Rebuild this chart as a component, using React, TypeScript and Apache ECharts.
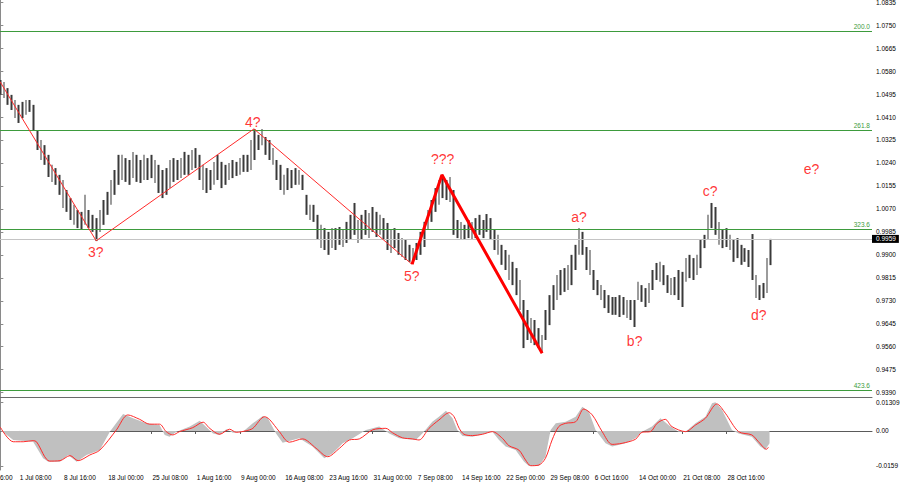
import React, { useEffect, useRef } from "react";
import * as echarts from "echarts";

const FONT = "Liberation Sans, Arial, sans-serif";
const N_SLOTS = 237;
const FIRST_TICK_BAR = 5;
const BARS_PER_TICK = 12;

const xTickLabels = [
  "1 Jul 08:00", "8 Jul 16:00", "18 Jul 00:00", "25 Jul 08:00", "1 Aug 16:00",
  "9 Aug 00:00", "16 Aug 08:00", "23 Aug 16:00", "31 Aug 00:00", "7 Sep 08:00",
  "14 Sep 16:00", "22 Sep 00:00", "29 Sep 08:00", "6 Oct 16:00", "14 Oct 00:00",
  "21 Oct 08:00", "28 Oct 16:00",
];
const offscreenTickLabel = "30 Jun 16:00";

const priceTicks = [
  0.939, 0.9475, 0.956, 0.9645, 0.973, 0.9815, 0.99, 0.9985, 1.007, 1.0155,
  1.024, 1.0325, 1.041, 1.0495, 1.058, 1.0665, 1.075, 1.0835,
];
const oscTicks = [-0.0159, 0, 0.01309];
const oscTickLabels = ["-0.0159", "0.00", "0.01309"];

const barHighs = [
  1.0547, 1.054, 1.0517, 1.0492, 1.0473, 1.0455, 1.0466, 1.0473, 1.0473, 1.0455,
  1.0362, 1.0325, 1.0306, 1.027, 1.0233, 1.0221, 1.0196, 1.0177, 1.014, 1.011,
  1.0085, 1.0066, 1.0059, 1.0122, 1.0066, 1.0048, 1.0036, 1.0066, 1.0103, 1.0133,
  1.0177, 1.0214, 1.027, 1.027, 1.0258, 1.0251, 1.0281, 1.027, 1.0251, 1.027,
  1.0258, 1.027, 1.0251, 1.0233, 1.0214, 1.0221, 1.0251, 1.0258, 1.0251, 1.0258,
  1.0281, 1.027, 1.0288, 1.0295, 1.027, 1.0233, 1.0221, 1.0214, 1.0244, 1.027,
  1.0244, 1.0233, 1.024, 1.0251, 1.0244, 1.0258, 1.027, 1.027, 1.0325, 1.0366,
  1.0344, 1.0366, 1.0336, 1.0325, 1.0295, 1.0251, 1.0233, 1.0196, 1.0221, 1.0214,
  1.0221, 1.0214, 1.0196, 1.0122, 1.0085, 1.0085, 1.0048, 1.0011, 0.9999, 0.9985,
  0.9999, 0.9999, 1.0003, 0.9992, 1.0022, 1.0048, 1.0092, 1.0029, 1.0048, 1.0066,
  1.0055, 1.0077, 1.0059, 1.0048, 1.0036, 1.0018, 0.9992, 0.9999, 0.9981, 0.9962,
  0.9955, 0.9937, 0.9925, 0.9944, 0.9985, 1.0022, 1.0066, 1.0103, 1.0147, 1.0177,
  1.0196, 1.0177, 1.0188, 1.014, 1.0029, 1.0022, 1.0011, 1.0029, 1.0022, 1.0036,
  1.0048, 1.0029, 1.0051, 1.0036, 0.9992, 0.9974, 0.9937, 0.9918, 0.99, 0.9874,
  0.9851, 0.9807, 0.9733, 0.9696, 0.9666, 0.9659, 0.9629, 0.9603, 0.9696, 0.9751,
  0.9788, 0.9825, 0.9844, 0.9851, 0.9862, 0.99, 0.9937, 0.9999, 0.9985, 0.9929,
  0.9918, 0.9844, 0.9807, 0.9788, 0.977, 0.9751, 0.9744, 0.9744, 0.9751, 0.9744,
  0.9733, 0.9733, 0.9733, 0.98, 0.9788, 0.9777, 0.9796, 0.9844, 0.987, 0.9874,
  0.9862, 0.9825, 0.9814, 0.9818, 0.9844, 0.9837, 0.9888, 0.99, 0.9888, 0.99,
  0.9955, 0.9974, 1.0048, 1.0092, 1.0077, 1.0022, 0.9992, 0.9999, 0.9974, 0.9955,
  0.9962, 0.9937, 0.9925, 0.9918, 0.9977, 0.9825, 0.9788, 0.9796, 0.9888, 0.9959,
];
const barLows = [
  1.0492, 1.048, 1.0455, 1.0436, 1.0406, 1.0388, 1.0406, 1.0418, 1.0429, 1.0362,
  1.0288, 1.0251, 1.0233, 1.0188, 1.017, 1.0159, 1.0122, 1.0073, 1.0059, 1.0029,
  1.0011, 0.9999, 0.9992, 1.0011, 0.9999, 0.9985, 0.9951, 0.9985, 1.0011, 1.0048,
  1.0085, 1.0122, 1.0159, 1.0177, 1.017, 1.0159, 1.0184, 1.017, 1.0166, 1.0177,
  1.0177, 1.0184, 1.0166, 1.0129, 1.011, 1.0122, 1.0147, 1.017, 1.0177, 1.0184,
  1.0196, 1.0196, 1.0214, 1.0221, 1.0177, 1.014, 1.0129, 1.014, 1.0159, 1.0177,
  1.0147, 1.0159, 1.0177, 1.0184, 1.0192, 1.0196, 1.0207, 1.0207, 1.0214, 1.0251,
  1.0288, 1.0306, 1.027, 1.0251, 1.0233, 1.0177, 1.014, 1.0122, 1.014, 1.0147,
  1.0159, 1.0159, 1.014, 1.0048, 1.0029, 1.0022, 0.9955, 0.9925, 0.9918, 0.99,
  0.9925, 0.9918, 0.9937, 0.9929, 0.9944, 0.9955, 0.9974, 0.9944, 0.9955, 0.9974,
  0.9962, 0.9985, 0.9966, 0.9974, 0.9955, 0.9918, 0.9907, 0.9925, 0.99, 0.9892,
  0.9881, 0.9874, 0.9866, 0.9881, 0.99, 0.9929, 0.9992, 1.0022, 1.0059, 1.0085,
  1.011, 1.0103, 1.0096, 0.9974, 0.9962, 0.9955, 0.9955, 0.9962, 0.9955, 0.9962,
  0.9974, 0.9962, 0.9985, 0.9955, 0.9918, 0.99, 0.9863, 0.9844, 0.9807, 0.9788,
  0.9751, 0.9696, 0.9555, 0.9585, 0.9574, 0.9566, 0.9555, 0.9537, 0.9585, 0.964,
  0.9696, 0.9733, 0.9751, 0.9763, 0.977, 0.9788, 0.9844, 0.99, 0.99, 0.9844,
  0.9825, 0.977, 0.9751, 0.9733, 0.9703, 0.9685, 0.9678, 0.9678, 0.967, 0.9678,
  0.9666, 0.9659, 0.9633, 0.9733, 0.9726, 0.9707, 0.9722, 0.977, 0.9807, 0.98,
  0.9788, 0.9759, 0.9751, 0.9751, 0.9733, 0.9707, 0.98, 0.9814, 0.9807, 0.9825,
  0.9851, 0.9925, 0.9955, 0.9999, 0.9974, 0.9937, 0.9925, 0.9929, 0.9918, 0.9874,
  0.9888, 0.9863, 0.9874, 0.9855, 0.9807, 0.974, 0.9733, 0.974, 0.9759, 0.9862,
];

const currentPrice = 0.9959;
const fiboLevels = [
  { label: "200.0", price: 1.0728 },
  { label: "261.8", price: 1.0362 },
  { label: "323.6", price: 0.9996 },
  { label: "423.6", price: 0.94 },
];

// [bar index, price]
const thinWavePath = [
  [-0.09, 1.0541], [26.0, 0.9952], [68.8, 1.0366], [111.7, 0.9865],
];
const thickWavePath = [
  [111.7, 0.9865], [119.8, 1.0196], [147.0, 0.9536],
];
const waveLabels = [
  { text: "3?", idx: 25.9, price: 0.9909 },
  { text: "4?", idx: 68.5, price: 1.0392 },
  { text: "5?", idx: 111.6, price: 0.982 },
  { text: "???", idx: 120.0, price: 1.0253 },
  { text: "a?", idx: 157.0, price: 1.004 },
  { text: "b?", idx: 172.1, price: 0.9581 },
  { text: "c?", idx: 192.6, price: 1.0136 },
  { text: "d?", idx: 205.8, price: 0.9677 },
  { text: "e?", idx: 220.1, price: 1.0218 },
];

// oscillator: [bar index, value]
const oscHistogram = [
  [0, 0.0005], [3.5, -0.0041], [8.9, -0.0049], [11.6, -0.0124], [13.0, -0.014],
  [16.2, -0.014], [18.4, -0.0109], [20.7, -0.014], [23.4, -0.0109], [27.0, -0.0086],
  [29.7, -0.0003], [33.3, 0.0077], [36.0, 0.0058], [39.6, 0.0035], [43.2, 0.0027],
  [44.6, -0.0018], [45.9, -0.0026], [47.8, -0.0003], [51.4, 0.002], [54.1, 0.0047],
  [57.7, -0.0011], [59.5, -0.0018], [61.3, 0.0008], [63.1, -0.0008], [65.8, -0.0003],
  [68.5, 0.0035], [71.2, 0.0068], [72.6, 0.0058], [74.8, -0.0011], [76.6, -0.0053],
  [81.1, -0.0033], [84.7, -0.0071], [87.9, -0.0124], [90.2, -0.0101], [92.9, -0.0056],
  [95.6, -0.0033], [99.2, 0.0005], [102.8, 0.002], [105.5, -0.0011], [108.2, -0.0033],
  [112.7, -0.0041], [114.5, -0.0011], [117.2, 0.0042], [119.0, 0.0065], [120.9, 0.0092],
  [122.7, 0.0058], [124.0, 0.0005], [125.4, -0.0023], [128.1, -0.0026], [131.7, -0.0011],
  [133.5, -0.0003], [135.3, -0.0041], [137.1, -0.0071], [139.8, -0.0086], [142.1, -0.014],
  [143.4, -0.0159], [146.1, -0.0159], [147.9, -0.0117], [149.3, 0.0005], [150.7, 0.0035],
  [153.4, 0.0042], [156.1, 0.0065], [157.9, 0.011], [159.7, 0.0088], [161.5, 0.0005],
  [164.2, -0.0056], [166.0, -0.0071], [169.6, -0.0056], [172.3, -0.0033], [174.1, -0.0003],
  [176.8, 0.002], [179.1, 0.0058], [181.3, 0.0027], [184.0, -0.0003], [185.9, -0.0003],
  [188.6, 0.0035], [191.3, 0.0065], [193.1, 0.0126], [194.0, 0.01309], [195.8, 0.0096],
  [198.5, 0.0005], [200.3, -0.0011], [203.9, -0.0026], [206.2, -0.0071], [207.5, -0.0086],
  [208.7, -0.0056],
];
const oscSignal = [
  [0, 0.0017], [3.5, -0.0049], [6.2, -0.0049], [8.9, -0.0044], [9.8, -0.0049],
  [13.4, -0.0137], [16.2, -0.0135], [18.9, -0.0112], [21.1, -0.0135], [24.3, -0.0109],
  [27.0, -0.0087], [31.5, 0.0005], [34.6, 0.0073], [37.8, 0.0053], [40.5, 0.0031],
  [43.2, 0.0031], [45.0, -0.0003], [46.8, -0.0018], [48.6, -0.0003], [52.2, 0.0015],
  [55.0, 0.004], [56.8, 0.0012], [59.5, -0.0015], [62.2, 0.0008], [64.0, -0.0006],
  [66.7, 0.0001], [68.5, 0.0012], [71.7, 0.0065], [73.0, 0.0053], [75.7, -0.0003],
  [78.4, -0.0051], [82.0, -0.0036], [85.7, -0.0079], [88.8, -0.0117], [92.0, -0.0079],
  [94.7, -0.0041], [97.4, -0.0036], [101.0, 0.0005], [104.6, 0.0012], [106.4, -0.0008],
  [109.1, -0.0031], [111.8, -0.0036], [113.6, -0.0041], [116.3, 0.0012], [119.0, 0.005],
  [121.8, 0.0083], [123.1, 0.0065], [124.5, 0.0012], [125.8, -0.0015], [128.1, -0.0021],
  [130.8, -0.0015], [133.5, -0.0003], [136.2, -0.0033], [138.0, -0.0067], [140.7, -0.0087],
  [142.5, -0.0132], [143.9, -0.0158], [146.1, -0.0155], [147.9, -0.0124], [149.7, -0.0041],
  [151.5, 0.002], [153.4, 0.0035], [156.1, 0.0042], [158.3, 0.01], [160.6, 0.0073],
  [163.3, -0.0003], [166.0, -0.0061], [168.7, -0.0056], [172.3, -0.0038], [174.1, -0.0006],
  [176.4, -0.0003], [178.2, 0.0035], [180.4, 0.0053], [182.2, 0.002], [185.9, -0.0003],
  [188.6, 0.0027], [191.3, 0.0058], [194.4, 0.0123], [196.7, 0.0081], [200.3, -0.0003],
  [203.9, -0.0018], [205.7, -0.0049], [207.9, -0.0083], [208.4, -0.0074],
];

const isTickBar = (i: number) =>
  i >= FIRST_TICK_BAR &&
  (i - FIRST_TICK_BAR) % BARS_PER_TICK === 0 &&
  (i - FIRST_TICK_BAR) / BARS_PER_TICK < xTickLabels.length;

function buildOption() {
  const cats = Array.from({ length: N_SLOTS }, (_, i) => String(i));
  const candles = barLows.map((lo, i) => [lo, barHighs[i], lo, barHighs[i]]);
  const GRID_LEFT = -1.5;
  const GRID_WIDTH = 873.5;
  return {
    animation: false,
    backgroundColor: "#ffffff",
    textStyle: { fontFamily: FONT },
    grid: [
      { left: GRID_LEFT, top: 0, width: GRID_WIDTH, height: 397, outerBoundsMode: "none" },
      { left: GRID_LEFT, top: 398, width: GRID_WIDTH, height: 72, outerBoundsMode: "none" },
    ],
    xAxis: [
      {
        type: "category", gridIndex: 0, data: cats, boundaryGap: true,
        axisLine: { show: true, lineStyle: { color: "#6a6a6a", width: 1 } },
        axisTick: { show: false }, axisLabel: { show: false }, splitLine: { show: false },
      },
      { type: "value", gridIndex: 0, min: -0.5, max: N_SLOTS - 0.5, show: false },
      {
        type: "category", gridIndex: 1, data: cats, boundaryGap: true,
        axisLine: { show: true, lineStyle: { color: "#5a5a5a", width: 1 } },
        axisTick: {
          show: true, alignWithLabel: true, length: 3,
          interval: (i: number) => isTickBar(i),
          lineStyle: { color: "#5a5a5a" },
        },
        axisLabel: {
          show: true,
          interval: (i: number) => isTickBar(i),
          formatter: (_v: string, i: number) =>
            isTickBar(i) ? xTickLabels[(i - FIRST_TICK_BAR) / BARS_PER_TICK] : "",
          align: "left", padding: [0, 0, 0, 1],
          fontSize: 6.5, fontFamily: FONT, color: "#000", margin: 4,
        },
        splitLine: { show: false },
      },
      { type: "value", gridIndex: 1, min: -0.5, max: N_SLOTS - 0.5, show: false },
    ],
    yAxis: [
      {
        type: "value", gridIndex: 0, position: "right", min: 0.9374, max: 1.0843,
        splitLine: { show: false },
        axisLine: { show: true, lineStyle: { color: "#8a8a8a" } },
        axisTick: { show: true, length: 3, customValues: priceTicks, lineStyle: { color: "#8a8a8a" } },
        axisLabel: {
          show: true, customValues: priceTicks,
          formatter: (v: number) => v.toFixed(4),
          fontSize: 6.5, fontFamily: FONT, color: "#000", margin: 4,
        },
      },
      {
        type: "value", gridIndex: 1, position: "right", min: -0.01775, max: 0.015,
        splitLine: { show: false },
        axisLine: { show: true, lineStyle: { color: "#8a8a8a" } },
        axisTick: { show: true, length: 3, customValues: oscTicks, lineStyle: { color: "#8a8a8a" } },
        axisLabel: {
          show: true, customValues: oscTicks,
          formatter: (v: number) => {
            const k = oscTicks.findIndex((t) => Math.abs(t - v) < 1e-7);
            return k >= 0 ? oscTickLabels[k] : "";
          },
          fontSize: 6.5, fontFamily: FONT, color: "#000", margin: 4,
        },
      },
    ],
    graphic: [
      {
        type: "text", x: -25, y: 474,
        style: { text: offscreenTickLabel, fontSize: 6.5, fontFamily: FONT, fill: "#000", verticalAlign: "top" },
      },
    ],
    series: [
      {
        type: "candlestick", xAxisIndex: 0, yAxisIndex: 0, data: candles,
        barWidth: 2.2, silent: true,
        itemStyle: { color: "#3a3a3a", color0: "#3a3a3a", borderColor: "#3a3a3a", borderColor0: "#3a3a3a", borderWidth: 0 },
        markLine: {
          silent: true, symbol: ["none", "none"], animation: false, precision: 6,
          data: [
            {
              yAxis: currentPrice,
              lineStyle: { color: "#c4c4c4", width: 1, type: "solid" },
              label: {
                show: true, position: "end", formatter: currentPrice.toFixed(4), distance: 0,
                backgroundColor: "#000", color: "#fff", padding: [1, 3, 0, 4],
                fontSize: 6.5, fontFamily: FONT,
              },
            },
            ...fiboLevels.map((f) => ({
              yAxis: f.price,
              lineStyle: { color: "#3d9b3d", width: 1, type: "solid" },
              label: {
                show: true, position: "insideEndTop", formatter: f.label, distance: [2, 1],
                color: "#3d9b3d", fontSize: 6.5, fontFamily: FONT,
              },
            })),
          ],
        },
      },
      {
        type: "line", xAxisIndex: 1, yAxisIndex: 0, data: thinWavePath, symbol: "none", silent: true,
        lineStyle: { color: "#ff2a2a", width: 1 }, z: 5,
      },
      {
        type: "line", xAxisIndex: 1, yAxisIndex: 0, data: thickWavePath, symbol: "none", silent: true,
        lineStyle: { color: "#ff0000", width: 3 }, z: 5,
      },
      {
        type: "scatter", xAxisIndex: 1, yAxisIndex: 0, symbolSize: 0, silent: true, z: 6,
        data: waveLabels.map((w) => ({ name: w.text, value: [w.idx, w.price] })),
        label: { show: true, position: "inside", formatter: "{b}", color: "#ff0000", fontSize: 14, fontFamily: FONT },
      },
      {
        type: "line", xAxisIndex: 3, yAxisIndex: 1, data: oscHistogram, symbol: "none", silent: true,
        lineStyle: { width: 0, color: "#c0c0c0" },
        areaStyle: { color: "#c0c0c0", opacity: 1, origin: "auto" },
      },
      {
        type: "line", xAxisIndex: 3, yAxisIndex: 1, data: oscSignal, symbol: "none", silent: true,
        smooth: 0.3, lineStyle: { color: "#ff2a2a", width: 1 }, z: 5,
      },
    ],
  };
}

export default function App() {
  const ref = useRef<HTMLDivElement>(null);
  useEffect(() => {
    if (!ref.current) return;
    const chart = echarts.init(ref.current, null, { renderer: "svg" });
    chart.setOption(buildOption() as any);
    return () => chart.dispose();
  }, []);
  return (
    <div
      ref={ref}
      style={{ position: "fixed", left: 0, top: 0, width: 900, height: 485, background: "#fff" }}
    />
  );
}
